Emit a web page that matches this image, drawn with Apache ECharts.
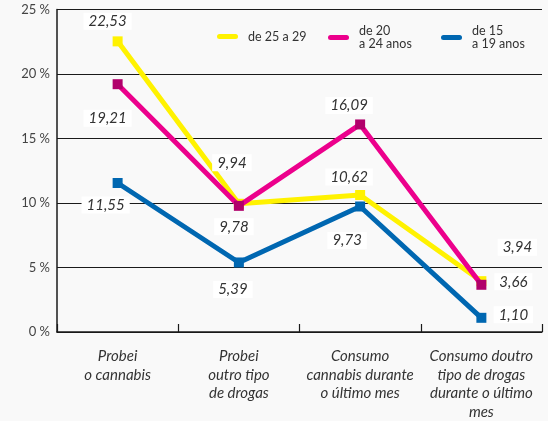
<!DOCTYPE html>
<html>
<head>
<meta charset="utf-8">
<script src="https://cdn.jsdelivr.net/npm/echarts@6/dist/echarts.min.js"></script>
<style>
  html, body { margin: 0; padding: 0; background: #f9f9f9; }
  #chart { width: 548px; height: 421px; }
</style>
</head>
<body>
<div id="chart"></div>
<script>
const categories = [
  'Probei\no cannabis',
  'Probei\noutro tipo\nde drogas',
  'Consumo\ncannabis durante\no último mes',
  'Consumo doutro\ntipo de drogas\ndurante o último\nmes'
];
const seriesNames = ['de 25 a 29', 'de 20\na 24 anos', 'de 15\na 19 anos'];
const age25to29 = [22.53, 9.94, 10.62, 3.94];
const age20to24 = [19.21, 9.78, 16.09, 3.66];
const age15to19 = [11.55, 5.39, 9.73, 1.10];
const yTicks = [0, 5, 10, 15, 20, 25];

// where each value label sits relative to its point
const labelOffsets = [
  [[-10, -20], [-7, -41], [-11, -18], [36, -34]],
  [[-10, 34], [-5, 21], [-11, -19], [32, -3]],
  [[-12, 22], [-6, 27], [-13, 34], [32, -3]]
];
const lineColors = ['#fff200', '#ec008c', '#0067b1'];
const markColors = ['#fff200', '#b1006b', '#0067b1'];

const FONT = 'Lato';
const pill = 'path://M3,0 L19,0 A2.5,2.5 0 0 1 19,5 L3,5 A2.5,2.5 0 0 1 3,0 Z';

function fmt(v) {
  return v.toFixed(2).replace('.', ',');
}

function makeSeries(idx, values) {
  return {
    name: seriesNames[idx],
    type: 'line',
    symbol: 'rect',
    symbolSize: 10,
    z: 2 + idx,
    lineStyle: { color: lineColors[idx], width: 5 },
    itemStyle: { color: markColors[idx] },
    label: {
      show: true,
      position: 'inside',
      formatter: p => fmt(p.value),
      fontFamily: FONT,
      fontStyle: 'italic',
      fontSize: 15,
      color: '#333',
      backgroundColor: '#fff',
      padding: [1, 5]
    },
    emphasis: { disabled: true },
    data: values.map((v, i) => ({ value: v, label: { offset: labelOffsets[idx][i] } }))
  };
}

function makeLegend(idx, left, top, twoLines) {
  return {
    data: [seriesNames[idx]],
    left: left,
    top: top,
    padding: 0,
    icon: pill,
    itemWidth: 23,
    itemHeight: 5,
    selectedMode: false,
    itemStyle: { color: lineColors[idx] },
    textStyle: {
      fontFamily: FONT,
      fontSize: 12.5,
      lineHeight: 13,
      color: '#333',
      padding: twoLines ? [13, 0, 0, 4] : [0, 0, 0, 4]
    }
  };
}

const chart = echarts.init(document.getElementById('chart'));
chart.setOption({
  backgroundColor: '#f9f9f9',
  animation: false,
  legend: [
    makeLegend(0, 217, 30, false),
    makeLegend(1, 328, 18, true),
    makeLegend(2, 441, 18, true)
  ],
  grid: { left: 57, right: 6, top: 9.5, bottom: 88 },
  xAxis: {
    type: 'category',
    data: categories,
    boundaryGap: true,
    axisLine: { lineStyle: { color: '#1a1a1a', width: 1.5 } },
    axisTick: { show: true, inside: true, length: 8, lineStyle: { color: '#1a1a1a', width: 1.2 } },
    axisLabel: {
      interval: 0,
      margin: 15,
      fontFamily: FONT,
      fontStyle: 'italic',
      fontSize: 15,
      lineHeight: 18.5,
      color: '#333'
    }
  },
  yAxis: {
    type: 'value',
    min: yTicks[0],
    max: yTicks[yTicks.length - 1],
    interval: 5,
    axisLine: { show: true, lineStyle: { color: '#1a1a1a', width: 1.5 } },
    axisTick: { show: false },
    splitLine: { lineStyle: { color: '#1a1a1a', width: 1 } },
    axisLabel: {
      formatter: '{value} %',
      margin: 7,
      fontFamily: FONT,
      fontSize: 13,
      color: '#444'
    }
  },
  series: [
    makeSeries(0, age25to29),
    makeSeries(1, age20to24),
    makeSeries(2, age15to19)
  ]
});
</script>
</body>
</html>
